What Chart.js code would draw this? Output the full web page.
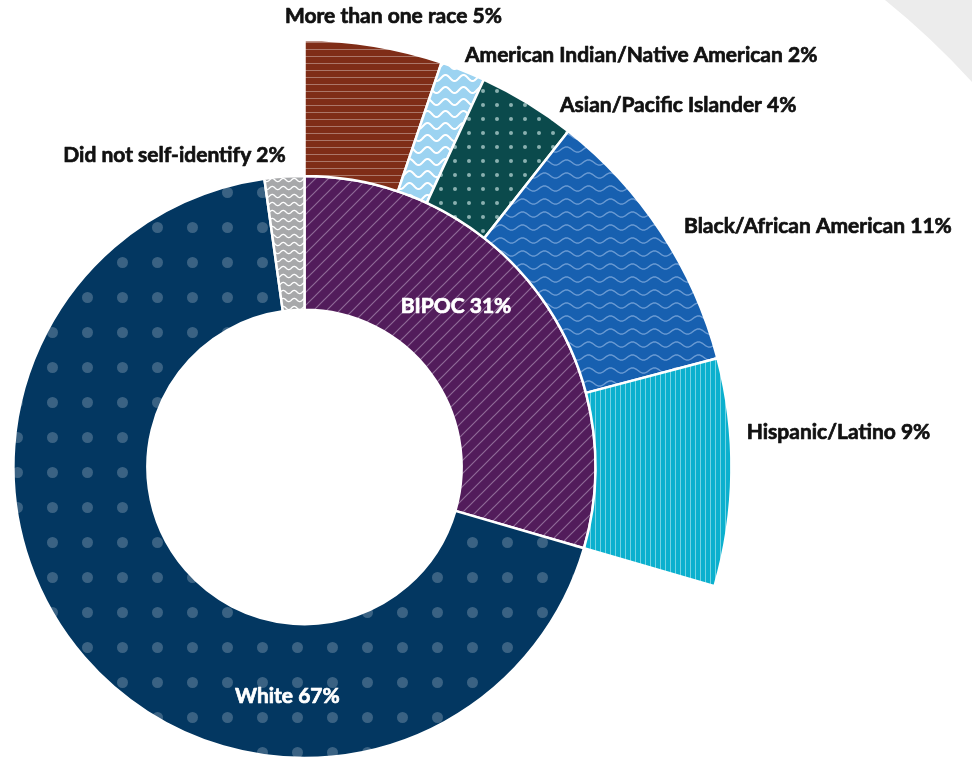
<!DOCTYPE html>
<html>
<head>
<meta charset="utf-8">
<script src="https://cdn.jsdelivr.net/npm/chart.js@4.4.1/dist/chart.umd.min.js"></script>
<style>
  html, body { margin: 0; padding: 0; background: #fff; overflow: hidden; }
  #wrap { position: relative; width: 972px; height: 759px; }
</style>
</head>
<body>
<div id="wrap"><canvas id="race-chart" width="972" height="759"></canvas></div>
<script>
// main ring: share of the drawn circle for each group, and the printed percent
const groups = ['BIPOC', 'White', 'Did not self-identify'];
const groupShares = [29.5, 68.3, 2.2];
const groupPct = [31, 67, 2];

// outer ring: BIPOC broken down, clockwise from 12 o'clock
const subgroups = ['More than one race', 'American Indian/Native American', 'Asian/Pacific Islander', 'Black/African American', 'Hispanic/Latino'];
const subgroupShares = [5.2, 1.7, 3.7, 10.3, 8.6];
const subgroupPct = [5, 2, 4, 11, 9];

// pattern fills
function tile(w, h, bg, draw) {
  const c = document.createElement('canvas');
  c.width = w; c.height = h;
  const g = c.getContext('2d');
  g.fillStyle = bg;
  g.fillRect(0, 0, w, h);
  draw(g, w, h);
  return document.createElement('canvas').getContext('2d').createPattern(c, 'repeat');
}
function waves(color, lw, amp) {
  return (g, w, h) => {
    g.strokeStyle = color; g.lineWidth = lw;
    g.beginPath();
    for (let x = -2; x <= w + 2; x += 0.5) {
      const y = h / 2 + amp * Math.sin(x / w * Math.PI * 2);
      if (x === -2) g.moveTo(x, y); else g.lineTo(x, y);
    }
    g.stroke();
  };
}
function dots(color, r) {
  return (g, w, h) => {
    g.fillStyle = color;
    g.beginPath(); g.arc(w / 2, h / 2, r, 0, Math.PI * 2); g.fill();
  };
}
function hlines(color, lw) { return (g, w) => { g.fillStyle = color; g.fillRect(0, 0, w, lw); }; }
function vlines(color, lw) { return (g, w, h) => { g.fillStyle = color; g.fillRect(0, 0, lw, h); }; }
function slashes(color, lw) {
  return (g, w, h) => {
    g.strokeStyle = color; g.lineWidth = lw;
    g.beginPath();
    g.moveTo(-1, h + 1); g.lineTo(w + 1, -1);
    g.moveTo(-1, 1); g.lineTo(1, -1);
    g.moveTo(w - 1, h + 1); g.lineTo(w + 1, h - 1);
    g.stroke();
  };
}

const groupFills = [
  tile(13, 13, '#521c5b', slashes('#8f6a97', 1.2)),
  tile(35, 35, '#033761', dots('rgba(255,255,255,0.22)', 5.5)),
  tile(11, 8, '#a7a8aa', waves('#ffffff', 1.3, 1.6))
];
const subgroupFills = [
  tile(4, 7, '#7f2d17', hlines('rgba(255,255,255,0.35)', 1)),
  tile(18, 12, '#9cd3f1', waves('#ffffff', 2, 3)),
  tile(14, 14, '#0b4a4c', dots('#8ab0b0', 2)),
  tile(22, 13, '#1760b0', waves('#6b9bd3', 1.4, 2.6)),
  tile(5, 4, '#0bb0ce', vlines('#73d3e4', 1))
];

// label anchors (left, baseline) relative to the chart centre
const subLabelAt = [[-19.5, -443.7], [160.5, -405.3], [255.5, -355.3], [379.5, -233.7], [442.2, -27.7]];
const groupLabelAt = [[96.2, -153.7], [-69.5, 236.3], [-241.2, -304.7]];
const groupLabelColor = ['#ffffff', '#ffffff', '#111111'];

const decor = {
  id: 'decor',
  beforeDraw(chart) {
    const ctx = chart.ctx;
    ctx.save();
    ctx.fillStyle = '#ececec';
    ctx.beginPath();
    ctx.moveTo(885, 0);
    ctx.quadraticCurveTo(931, 37, 972, 82);
    ctx.lineTo(972, 0);
    ctx.closePath();
    ctx.fill();
    ctx.restore();
  }
};

function boldText(ctx, text, x, y, color) {
  ctx.fillStyle = color;
  ctx.strokeStyle = color;
  ctx.lineWidth = 0.7;
  ctx.lineJoin = 'round';
  ctx.strokeText(text, x, y);
  ctx.fillText(text, x, y);
}

const sliceLabels = {
  id: 'sliceLabels',
  afterDraw(chart) {
    const ctx = chart.ctx;
    const arc = chart.getDatasetMeta(1).data[0];
    const cx = arc.x, cy = arc.y;
    ctx.save();
    ctx.font = '700 21px Lato';
    ctx.textAlign = 'left';
    ctx.textBaseline = 'alphabetic';
    subgroups.forEach((name, i) => {
      boldText(ctx, name + ' ' + subgroupPct[i] + '%', cx + subLabelAt[i][0], cy + subLabelAt[i][1], '#111111');
    });
    groups.forEach((name, i) => {
      boldText(ctx, name + ' ' + groupPct[i] + '%', cx + groupLabelAt[i][0], cy + groupLabelAt[i][1], groupLabelColor[i]);
    });
    ctx.restore();
  }
};

function draw() {
  new Chart(document.getElementById('race-chart'), {
    type: 'doughnut',
    data: {
      labels: subgroups.concat(['']),
      datasets: [{
        data: subgroupShares.concat([groupShares[1] + groupShares[2]]),
        backgroundColor: subgroupFills.concat(['rgba(0,0,0,0)']),
        borderColor: '#ffffff',
        borderWidth: [2.5, 2.5, 2.5, 2.5, 2.5, 0],
        weight: 136,
        clip: false
      }, {
        data: groupShares,
        backgroundColor: groupFills,
        borderColor: '#ffffff',
        borderWidth: 2.5,
        weight: 134,
        clip: false
      }]
    },
    options: {
      responsive: false,
      animation: false,
      events: [],
      radius: 427,
      cutout: '36.8%',
      layout: { padding: { left: 0, right: 363, top: 175, bottom: 0 } },
      plugins: { legend: { display: false }, tooltip: { enabled: false } }
    },
    plugins: [decor, sliceLabels]
  });
}

if (document.fonts && document.fonts.load) {
  document.fonts.load('700 21px Lato').then(draw, draw);
} else {
  draw();
}
</script>
</body>
</html>
